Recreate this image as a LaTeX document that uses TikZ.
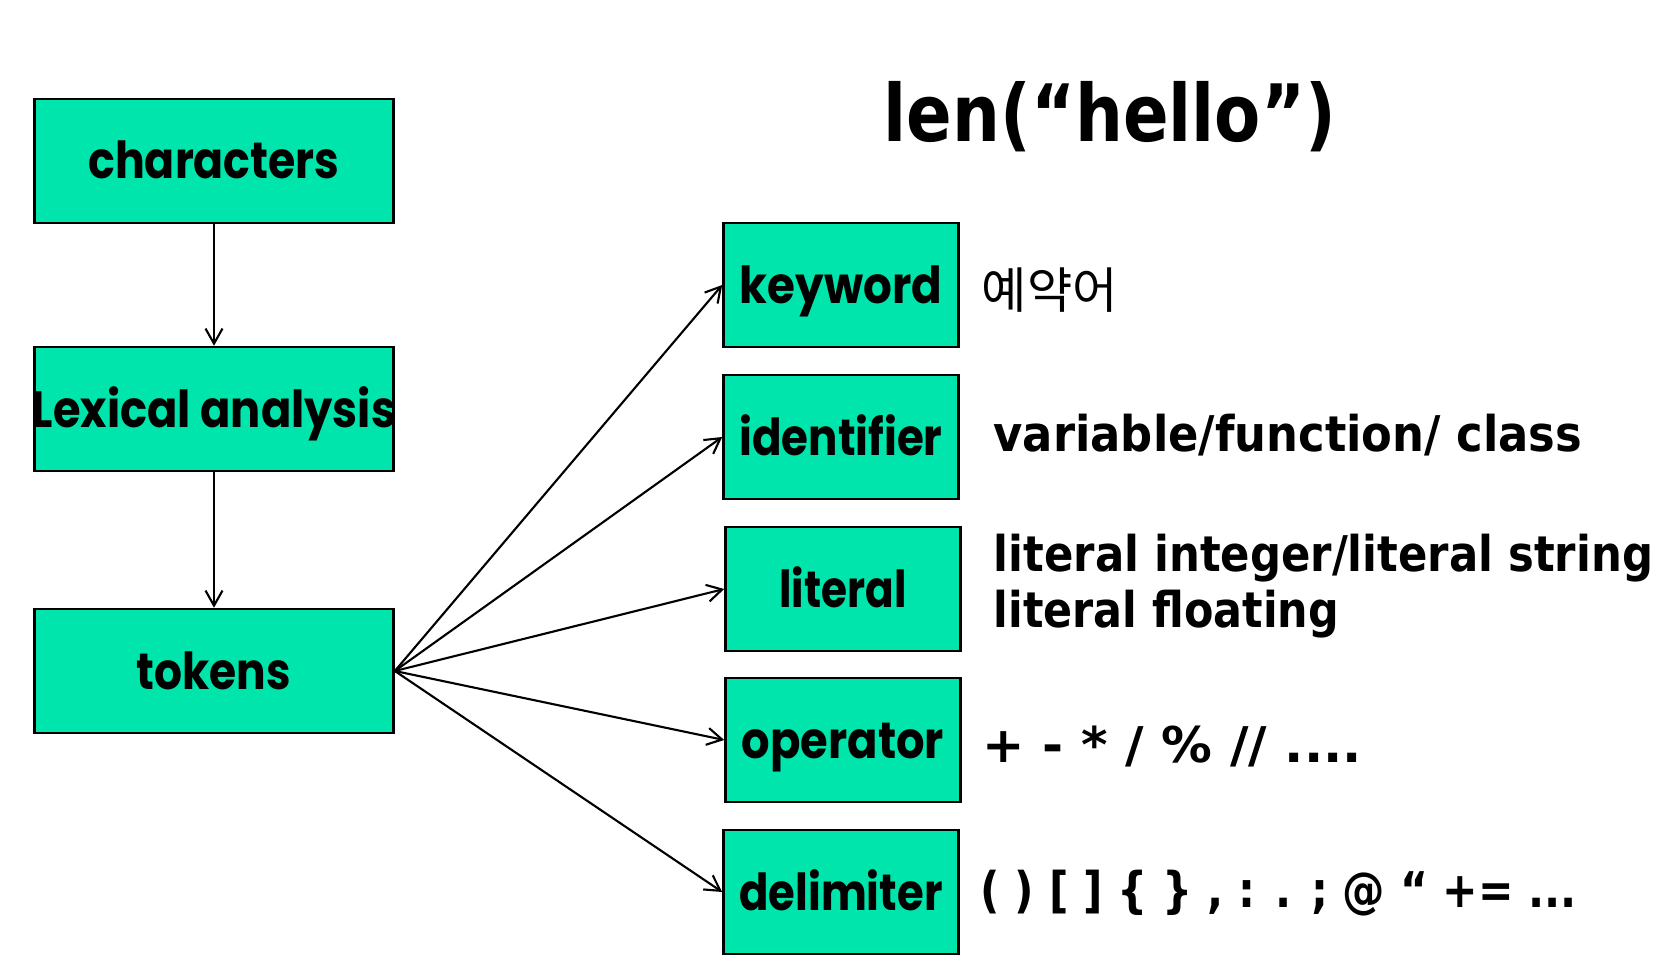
\documentclass[tikz,border=0pt]{standalone}
\usepackage{fontspec}
\usepackage{graphicx}
\setmainfont{DejaVu Sans}
\newfontfamily\boxfont{Poppins}
\newfontfamily\krfont{Noto Sans CJK KR}
\usetikzlibrary{arrows.meta}
\definecolor{boxgreen}{RGB}{0,229,171}
\newcommand{\fitw}[2]{\resizebox{#1cm}{\height}{#2}}
\begin{document}
\begin{tikzpicture}[x=0.01cm,y=-0.01cm,
  box/.style={draw=black, line width=0.7pt, fill=boxgreen, inner sep=0pt,
    minimum width=3.59cm, minimum height=1.24cm, text height=0.36cm, text depth=0cm,
    font=\boxfont\bfseries\fontsize{14.5}{16}\selectfont},
  rbox/.style={box, minimum width=2.35cm},
  link/.style={line width=0.6pt, -{Straight Barb[length=0.15cm,width=0.17cm]}},
  desc/.style={anchor=base west, inner sep=0pt, font=\bfseries\fontsize{14}{16}\selectfont}
]
\useasboundingbox (0,0) rectangle (1667,980);

\node[box] (chars) at (214,161) {\fitw{2.51}{characters}};
\node[box] (lex) at (214,409) {\makebox[0pt]{\fitw{3.64}{Lexical analysis}}};
\node[box] (tok) at (214,671) {\fitw{1.54}{tokens}};

\node[rbox] (kw) at (841,285) {\fitw{2.02}{keyword}};
\node[rbox] (id) at (841,437) {\fitw{2.03}{identifier}};
\node[rbox] (lit) at (843,589) {\fitw{1.27}{literal}};
\node[rbox] (op) at (843,740) {\fitw{2.02}{operator}};
\node[rbox] (del) at (841,892) {\fitw{2.03}{delimiter}};

\node[anchor=base west, inner sep=0pt, font=\bfseries\fontsize{22.5}{27}\selectfont] (title) at (883,142) {\fitw{4.52}{len(“hello”)}};

\node[anchor=west, inner sep=0pt, font=\krfont\fontsize{14}{16}\selectfont] (kwdesc) at (981,290) {예약어};
\node[desc] (iddesc) at (993,452) {\fitw{5.88}{variable/function/ class}};
\node[desc] (litdescA) at (993,572) {\fitw{6.59}{literal integer/literal string}};
\node[desc] (litdescB) at (993,628) {\fitw{3.45}{literal floating}};
\node[desc] (opdesc) at (982,763) {\fitw{3.79}{+ - * / \% // ....}};
\node[desc] (deldesc) at (980,907) {\fitw{5.96}{( ) [ ] \{ \} , : . ; @ “ += ...}};

\draw[link] (chars) -- (lex);
\draw[link] (lex) -- (tok);
\draw[link] (tok.east) -- (kw.west);
\draw[link] (tok.east) -- (id.west);
\draw[link] (tok.east) -- (lit.west);
\draw[link] (tok.east) -- (op.west);
\draw[link] (tok.east) -- (del.west);
\end{tikzpicture}
\end{document}
